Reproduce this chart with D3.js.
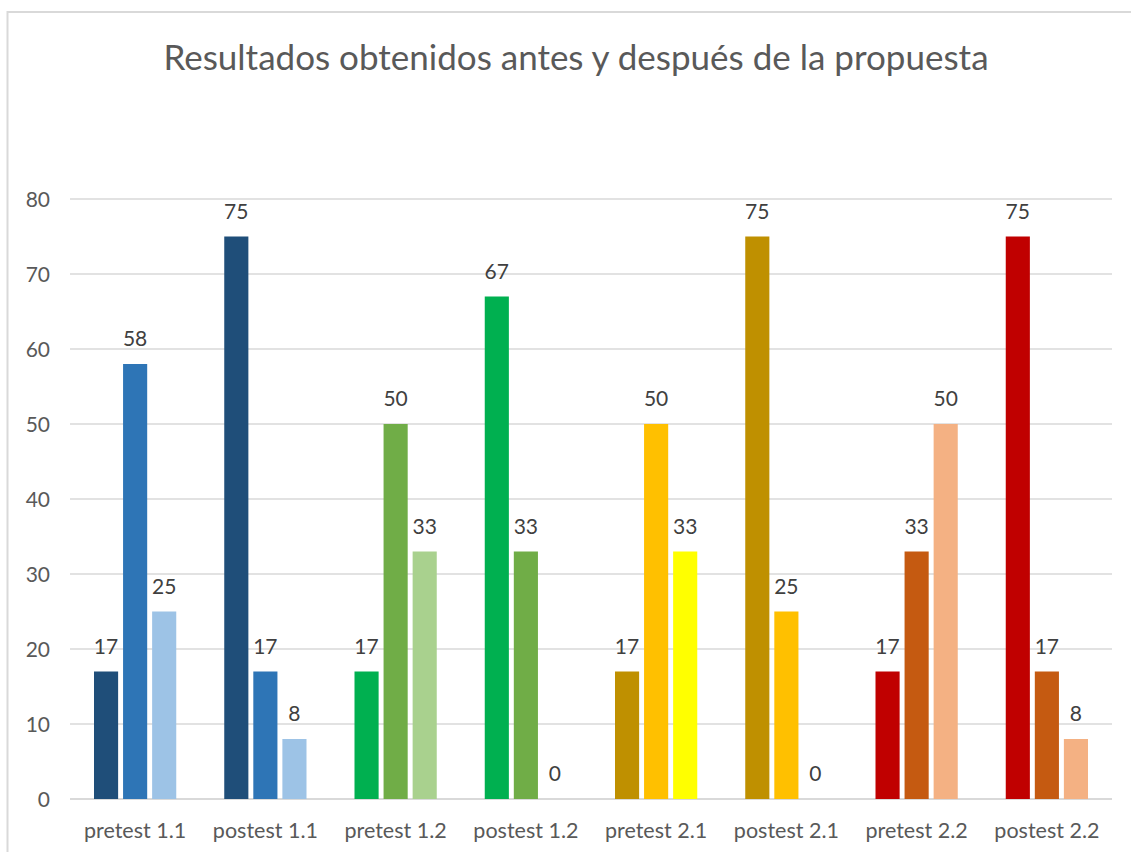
<!DOCTYPE html>
<html lang="es">
<head>
<meta charset="utf-8">
<title>Resultados obtenidos antes y después de la propuesta</title>
<script src="https://cdn.jsdelivr.net/npm/d3@7"></script>
<style>
  body { margin: 0; background: #fff; }
  text { font-family: Lato, "Open Sans", sans-serif; }
</style>
</head>
<body>
<script>
// data
var categories = ["pretest 1.1", "postest 1.1", "pretest 1.2", "postest 1.2",
                  "pretest 2.1", "postest 2.1", "pretest 2.2", "postest 2.2"];
var serie1 = [17, 75, 17, 67, 17, 75, 17, 75];
var serie2 = [58, 17, 50, 33, 50, 25, 33, 17];
var serie3 = [25, 8, 33, 0, 33, 0, 50, 8];
var yTicks = [0, 10, 20, 30, 40, 50, 60, 70, 80];

// each category group has its own palette (dark, mid, light)
var palettes = [
  ["#1F4E79", "#2E75B6", "#9DC3E6"],
  ["#1F4E79", "#2E75B6", "#9DC3E6"],
  ["#00B050", "#70AD47", "#A9D18E"],
  ["#00B050", "#70AD47", "#A9D18E"],
  ["#BF9000", "#FFC000", "#FFFF00"],
  ["#BF9000", "#FFC000", "#FFFF00"],
  ["#C00000", "#C55A11", "#F4B183"],
  ["#C00000", "#C55A11", "#F4B183"]
];

var w = 1131, h = 852;
// plot area (note: "top" is reserved on window, so use p* names)
var pLeft = 70, pRight = 1112, pTop = 199, pBottom = 799;

var svg = d3.select("body").append("svg")
  .attr("width", w).attr("height", h);

// chart frame (runs off the right/bottom edge like the screenshot)
svg.append("rect")
  .attr("x", 7.5).attr("y", 12)
  .attr("width", w + 20).attr("height", h + 20)
  .attr("fill", "#fff")
  .attr("stroke", "#d9d9d9").attr("stroke-width", 2);

var x0 = d3.scaleBand().domain(categories).range([pLeft, pRight]).padding(0);
var x1 = d3.scaleBand().domain([0, 1, 2])
  .range([24, x0.bandwidth() - 24]).paddingInner(0.17);
var y = d3.scaleLinear().domain([0, 80]).range([pBottom, pTop]);

// gridlines
svg.append("g").selectAll("line")
  .data(yTicks)
  .enter().append("line")
  .attr("x1", pLeft).attr("x2", pRight)
  .attr("y1", function(d) { return y(d); })
  .attr("y2", function(d) { return y(d); })
  .attr("stroke", "#d9d9d9")
  .attr("stroke-width", function(d) { return d === 0 ? 2 : 1.5; });

// y tick labels
svg.append("g").selectAll("text")
  .data(yTicks)
  .enter().append("text")
  .attr("x", 50)
  .attr("y", function(d) { return y(d); })
  .attr("dy", "0.36em")
  .attr("text-anchor", "end")
  .attr("font-size", 21)
  .attr("fill", "#595959")
  .text(function(d) { return d; });

// x labels
svg.append("g").selectAll("text")
  .data(categories)
  .enter().append("text")
  .attr("x", function(d) { return x0(d) + x0.bandwidth() / 2; })
  .attr("y", 838)
  .attr("text-anchor", "middle")
  .attr("font-size", 21.5)
  .attr("fill", "#595959")
  .text(function(d) { return d; });

// flatten the three series into bar records
var bars = [];
categories.forEach(function(c, i) {
  [serie1[i], serie2[i], serie3[i]].forEach(function(v, s) {
    bars.push({ cat: c, s: s, v: v, color: palettes[i][s] });
  });
});

var g = svg.append("g");
g.selectAll("rect")
  .data(bars)
  .enter().append("rect")
  .attr("x", function(d) { return x0(d.cat) + x1(d.s); })
  .attr("y", function(d) { return y(d.v); })
  .attr("width", x1.bandwidth())
  .attr("height", function(d) { return y(0) - y(d.v); })
  .attr("fill", function(d) { return d.color; });

g.selectAll("text")
  .data(bars)
  .enter().append("text")
  .attr("x", function(d) { return x0(d.cat) + x1(d.s) + x1.bandwidth() / 2; })
  .attr("y", function(d) { return y(d.v) - 18; })
  .attr("text-anchor", "middle")
  .attr("font-size", 21)
  .attr("fill", "#404040")
  .text(function(d) { return d.v; });

// title
svg.append("text")
  .attr("x", 576).attr("y", 70)
  .attr("text-anchor", "middle")
  .attr("font-size", 35)
  .attr("fill", "#595959")
  .text("Resultados obtenidos antes y después de la propuesta");
</script>
</body>
</html>
